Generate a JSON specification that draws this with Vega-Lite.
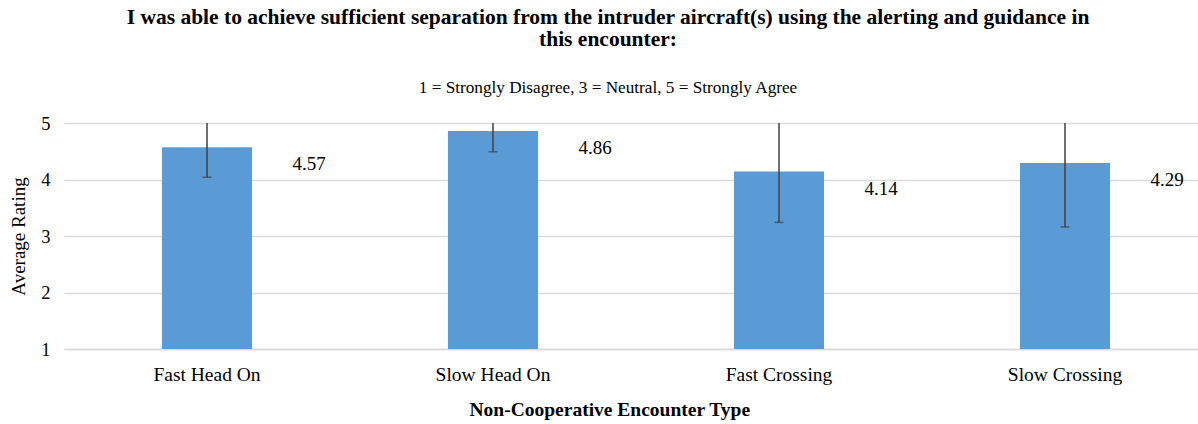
{
  "$schema": "https://vega.github.io/schema/vega-lite/v6.json",
  "width": 1144,
  "height": 226,
  "padding": {"left": 9, "top": 7, "right": 0, "bottom": 5},
  "background": "white",
  "config": {
    "view": {"stroke": null},
    "font": "Liberation Serif"
  },
  "title": {
    "text": ["I was able to achieve sufficient separation from the intruder  aircraft(s) using the alerting and guidance in", "this encounter:"],
    "subtitle": "1 = Strongly Disagree, 3 = Neutral, 5 = Strongly Agree",
    "font": "Liberation Serif",
    "fontSize": 21.5,
    "fontWeight": "bold",
    "lineHeight": 22,
    "color": "#000000",
    "subtitleFont": "Liberation Serif",
    "subtitleFontSize": 17.2,
    "subtitleColor": "#000000",
    "subtitlePadding": 28,
    "anchor": "middle",
    "dx": -28,
    "offset": 18
  },
  "data": {
    "values": [
      {"type": "Fast Head On", "mean": 4.57, "lo": 4.04, "hi": 5.10},
      {"type": "Slow Head On", "mean": 4.86, "lo": 4.49, "hi": 5.23},
      {"type": "Fast Crossing", "mean": 4.14, "lo": 3.24, "hi": 5.04},
      {"type": "Slow Crossing", "mean": 4.29, "lo": 3.16, "hi": 5.42}
    ]
  },
  "encoding": {
    "x": {
      "field": "type",
      "type": "nominal",
      "sort": null,
      "scale": {"paddingInner": 0.685, "paddingOuter": 0.3425},
      "axis": {
        "title": "Non-Cooperative Encounter Type",
        "titleFont": "Liberation Serif",
        "titleFontSize": 19.5,
        "titleFontWeight": "bold",
        "titleColor": "#000000",
        "titlePadding": 17,
        "titleAnchor": "start",
        "titleX": 405,
        "labelAngle": 0,
        "labelFont": "Liberation Serif",
        "labelFontSize": 19.5,
        "labelColor": "#000000",
        "labelPadding": 16,
        "ticks": false,
        "domain": true,
        "domainColor": "#d9d9d9",
        "domainWidth": 1.5,
        "grid": false
      }
    }
  },
  "layer": [
    {
      "mark": {"type": "bar", "color": "#5b9bd5"},
      "encoding": {
        "y": {
          "field": "mean",
          "type": "quantitative",
          "scale": {"domain": [1, 5], "nice": false, "zero": false},
          "axis": {
            "title": "Average Rating",
            "titleFont": "Liberation Serif",
            "titleFontSize": 19,
            "titleFontWeight": "normal",
            "titleColor": "#000000",
            "titlePadding": 12,
            "values": [1, 2, 3, 4, 5],
            "format": "d",
            "labelFont": "Liberation Serif",
            "labelFontSize": 18.5,
            "labelColor": "#000000",
            "labelPadding": 14,
            "ticks": false,
            "domain": false,
            "grid": true,
            "gridColor": "#d9d9d9",
            "gridWidth": 1.5
          }
        },
        "y2": {"datum": 1}
      }
    },
    {
      "mark": {"type": "rule", "color": "#404040", "strokeWidth": 1.5, "clip": true},
      "encoding": {
        "y": {"field": "lo", "type": "quantitative"},
        "y2": {"field": "hi"}
      }
    },
    {
      "mark": {"type": "tick", "color": "#404040", "thickness": 1.5, "size": 9, "orient": "horizontal"},
      "encoding": {
        "y": {"field": "lo", "type": "quantitative"}
      }
    },
    {
      "mark": {"type": "text", "dx": 102, "dy": 17, "font": "Liberation Serif", "fontSize": 19, "color": "#000000"},
      "encoding": {
        "y": {"field": "mean", "type": "quantitative"},
        "text": {"field": "mean", "type": "quantitative", "format": ".2f"}
      }
    }
  ]
}
